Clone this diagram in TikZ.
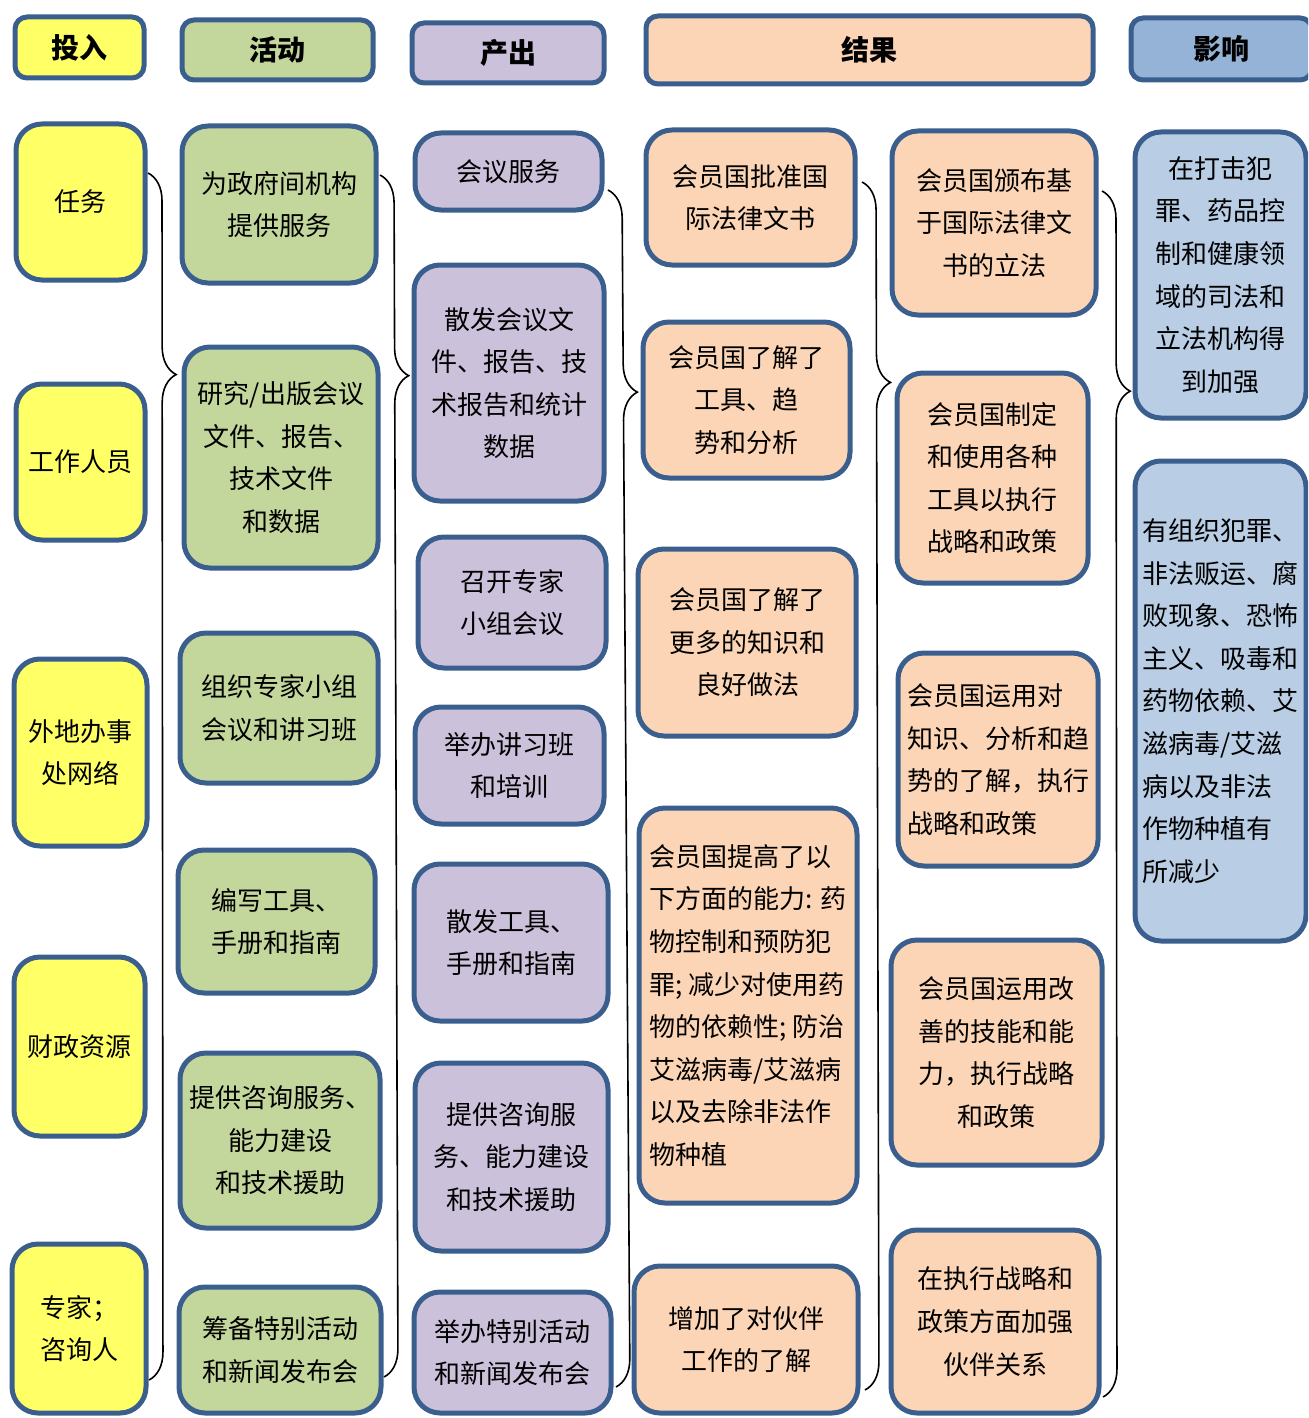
\documentclass[tikz,border=0pt]{standalone}
\usepackage{fontspec}
\setmainfont{Noto Sans CJK SC}
\usepackage{tikz}
\usetikzlibrary{decorations.pathreplacing}
\definecolor{bord}{HTML}{3A5F8E}
\definecolor{inyel}{HTML}{FFFF66}
\definecolor{actgrn}{HTML}{C3D69B}
\definecolor{outpur}{HTML}{CCC1DA}
\definecolor{respch}{HTML}{FBD5B5}
\definecolor{imphd}{HTML}{95B3D7}
\definecolor{impbl}{HTML}{B9CDE5}
\newcommand{\bx}[7]{\node[#1, minimum width={(#5-#3)*0.5pt}, minimum height={(#6-#4)*0.5pt}] (#2) at ({(#3+#5)/2},{(#4+#6)/2}) {#7};}

\begin{document}
\begin{tikzpicture}[x=0.5pt, y=-0.5pt,
  box/.style={draw=bord, line width=2.5pt, rounded corners=13pt, inner sep=0pt, align=center, font=\fontsize{13}{21.3}\selectfont},
  head/.style={box, rounded corners=6pt, font=\fontsize{14}{16}\selectfont\bfseries},
  brc/.style={decorate, decoration={brace, amplitude=14pt, aspect=#1}, line width=0.8pt}]

\useasboundingbox (0,0) rectangle (1308,1418);
\clip (0,0) rectangle (1308,1418);

\bx{head, fill=inyel}{hin}{15}{17}{144}{78}{投入}
\bx{head, fill=actgrn}{hact}{182}{20}{373}{80}{活动}
\bx{head, fill=outpur}{hout}{412}{23}{604}{83}{产出}
\bx{head, fill=respch}{hres}{646}{16}{1093}{84}{结果}
\bx{head, fill=imphd}{himp}{1131}{18}{1312}{80}{影响}

\bx{box, fill=inyel}{in1}{16}{124}{145}{280}{任务}
\bx{box, fill=inyel}{in2}{16}{384}{145}{540}{工作人员}
\bx{box, fill=inyel}{in3}{14}{659}{147}{846}{外地办事\\处网络}
\bx{box, fill=inyel}{in4}{14}{957}{145}{1136}{财政资源}
\bx{box, fill=inyel, align=left}{in5}{12}{1244}{146}{1413}{专家；\\咨询人}

\bx{box, fill=actgrn}{act1}{182}{126}{376}{283}{为政府间机构\\提供服务}
\bx{box, fill=actgrn}{act2}{184}{347}{378}{568}{研究/出版会议\\文件、报告、\\技术文件\\和数据}
\bx{box, fill=actgrn}{act3}{180}{633}{378}{783}{组织专家小组\\会议和讲习班}
\bx{box, fill=actgrn}{act4}{178}{850}{375}{993}{编写工具、\\手册和指南}
\bx{box, fill=actgrn}{act5}{180}{1053}{380}{1228}{提供咨询服务、\\能力建设\\和技术援助}
\bx{box, fill=actgrn}{act6}{179}{1287}{381}{1413}{筹备特别活动\\和新闻发布会}

\bx{box, fill=outpur}{out1}{415}{133}{602}{210}{会议服务}
\bx{box, fill=outpur}{out2}{414}{265}{604}{501}{散发会议文\\件、报告、技\\术报告和统计\\数据}
\bx{box, fill=outpur}{out3}{418}{537}{606}{668}{召开专家\\小组会议}
\bx{box, fill=outpur}{out4}{415}{707}{604}{824}{举办讲习班\\和培训}
\bx{box, fill=outpur}{out5}{414}{864}{608}{1021}{散发工具、\\手册和指南}
\bx{box, fill=outpur}{out6}{415}{1063}{608}{1251}{提供咨询服\\务、能力建设\\和技术援助}
\bx{box, fill=outpur}{out7}{414}{1292}{611}{1413}{举办特别活动\\和新闻发布会}

\bx{box, fill=respch}{ra1}{646}{130}{855}{265}{会员国批准国\\际法律文书}
\bx{box, fill=respch}{ra2}{643}{322}{850}{478}{会员国了解了\\工具、趋\\势和分析}
\bx{box, fill=respch}{ra3}{638}{549}{856}{736}{会员国了解了\\更多的知识和\\良好做法}
\bx{box, fill=respch, align=left}{ra4}{639}{808}{857}{1203}{会员国提高了以\\下方面的能力: 药\\物控制和预防犯\\罪; 减少对使用药\\物的依赖性; 防治\\艾滋病毒/艾滋病\\以及去除非法作\\物种植}
\bx{box, fill=respch}{ra5}{634}{1266}{858}{1413}{增加了对伙伴\\工作的了解}

\bx{box, fill=respch}{rb1}{892}{131}{1096}{315}{会员国颁布基\\于国际法律文\\书的立法}
\bx{box, fill=respch}{rb2}{897}{373}{1088}{583}{会员国制定\\和使用各种\\工具以执行\\战略和政策}
\bx{box, fill=respch, align=left}{rb3}{898}{653}{1098}{866}{会员国运用对\\知识、分析和趋\\势的了解，执行\\战略和政策}
\bx{box, fill=respch}{rb4}{891}{940}{1102}{1165}{会员国运用改\\善的技能和能\\力，执行战略\\和政策}
\bx{box, fill=respch}{rb5}{891}{1230}{1099}{1413}{在执行战略和\\政策方面加强\\伙伴关系}

\bx{box, fill=impbl}{im1}{1135}{132}{1306}{418}{在打击犯\\罪、药品控\\制和健康领\\域的司法和\\立法机构得\\到加强}
\bx{box, fill=impbl, align=left}{im2}{1135}{461}{1306}{941}{有组织犯罪、\\非法贩运、腐\\败现象、恐怖\\主义、吸毒和\\药物依赖、艾\\滋病毒/艾滋\\病以及非法\\作物种植有\\所减少}

\coordinate (b1t) at (148,173);
\coordinate (b1b) at (149,1380);
\coordinate (b2t) at (380,175);
\coordinate (b2b) at (384,1377);
\coordinate (b3t) at (608,190);
\coordinate (b3b) at (616,1387);
\coordinate (b4t) at (862,182);
\coordinate (b4b) at (865,1390);
\coordinate (b5t) at (1102,191);
\coordinate (b5b) at (1103,1397);

\draw[brc=0.167] (b1t) -- (b1b);
\draw[brc=0.167] (b2t) -- (b2b);
\draw[brc=0.169] (b3t) -- (b3b);
\draw[brc=0.166] (b4t) -- (b4b);
\draw[brc=0.166] (b5t) -- (b5b);

\end{tikzpicture}
\end{document}
